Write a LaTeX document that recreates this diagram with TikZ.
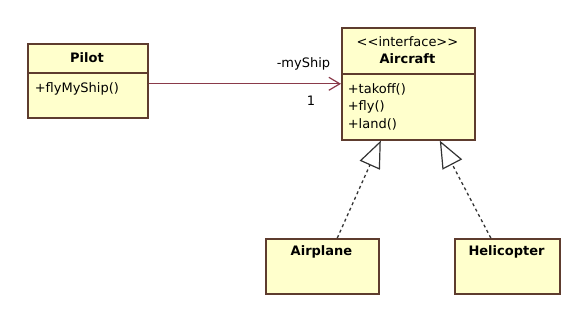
\documentclass[tikz,border=0pt]{standalone}
\usepackage{fontspec}
\setmainfont{DejaVu Sans}
\usetikzlibrary{arrows.meta, positioning, calc}
\definecolor{cfill}{HTML}{FFFFCC}
\definecolor{cedge}{HTML}{5E3C2E}
\definecolor{cassoc}{HTML}{8A3A4A}
\definecolor{cdash}{HTML}{333333}
\tikzset{
  every picture/.style={font=\fontsize{13}{15}\selectfont, line width=1.6pt},
  classbox/.style={draw=cedge, fill=cfill, anchor=north west, inner sep=0pt},
  divider/.style={draw=cedge, line width=1.6pt},
  classname/.style={font=\fontsize{13}{15}\selectfont\bfseries, inner sep=1pt},
  stereo/.style={inner sep=1pt},
  member/.style={anchor=west, inner sep=1pt},
  assoc/.style={-{Straight Barb[length=11pt, width=13pt, line width=1.2pt]}, draw=cassoc, line width=1.3pt},
  realize/.style={-{Triangle[length=27pt, width=22pt, fill=white, line width=1.2pt]}, draw=cdash, line width=1.3pt, dash pattern=on 3pt off 3pt},
}

\begin{document}
\begin{tikzpicture}[x=1pt, y=-1pt]
  \useasboundingbox[fill=white] (0,0) rectangle (586,320);
  % class boxes
  \node[classbox, minimum width=120pt, minimum height=74pt] (pilot) at (27,43) {};
  \node[classbox, minimum width=133pt, minimum height=112pt] (aircraft) at (341,27) {};
  \node[classbox, minimum width=113pt, minimum height=55pt] (airplane) at (265,238) {};
  \node[classbox, minimum width=105pt, minimum height=55pt] (helicopter) at (454,238) {};
  \draw[divider] (pilot.west |- 0,73) -- (pilot.east |- 0,73);
  \draw[divider] (aircraft.west |- 0,74) -- (aircraft.east |- 0,74);
  % compartments
  \node[classname] (pilotname) at (87,58) {Pilot};
  \node[member] (flyship) at (33,89) {+flyMyShip()};
  \node[stereo] (stereotype) at (407.5,42) {{<}{<}interface{>}{>}};
  \node[classname] (aircraftname) at (407.5,59) {Aircraft};
  \node[member] (takeoff) at (346,89) {+takoff()};
  \node[member] (fly) at (346,106.5) {+fly()};
  \node[member] (land) at (346,124) {+land()};
  \node[classname] (airplanename) at (321.5,252) {Airplane};
  \node[classname] (heliname) at (506.5,252) {Helicopter};
  % association
  \draw[assoc] (pilot.east |- aircraft.west) -- (aircraft.west);
  \node[member, anchor=east] (rolename) at (332,64) {-myShip};
  \node[member, anchor=center] (mult) at (311,101) {1};
  % realizations
  \draw[realize] ([xshift=15pt]airplane.north) -- ([xshift=-27.5pt]aircraft.south);
  \draw[realize] ([xshift=-16.5pt]helicopter.north) -- ([xshift=31.5pt]aircraft.south);
\end{tikzpicture}
\end{document}
